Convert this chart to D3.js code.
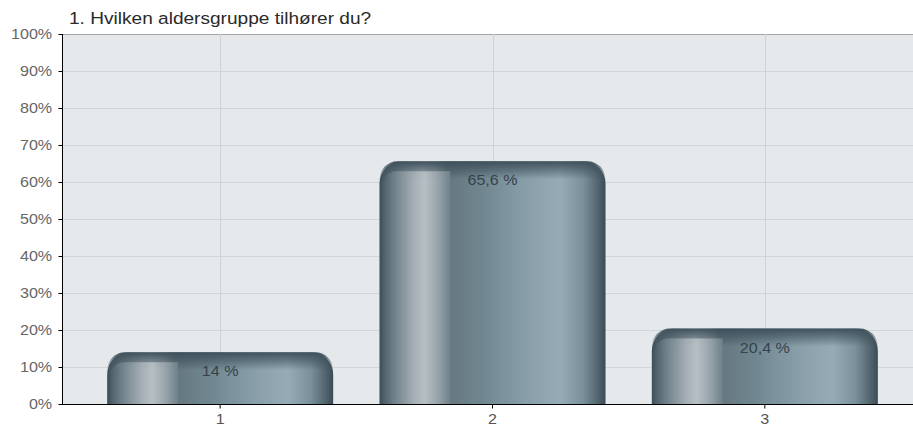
<!DOCTYPE html>
<html>
<head>
<meta charset="utf-8">
<script src="https://cdn.jsdelivr.net/npm/d3@7"></script>
<style>
  html, body { margin: 0; padding: 0; background: #ffffff; }
  svg { display: block; font-family: "Liberation Sans", Arial, sans-serif; }
</style>
</head>
<body>
<svg id="chart" width="913" height="429"></svg>
<script>
// Survey question and answer shares
const title = "1. Hvilken aldersgruppe tilhører du?";
const categories = ["1", "2", "3"];
const values = [14, 65.6, 20.4];
const valueLabels = ["14 %", "65,6 %", "20,4 %"];
const yTicks = [0, 10, 20, 30, 40, 50, 60, 70, 80, 90, 100];

const svg = d3.select("#chart");
const plot = { left: 62, top: 34, right: 913, bottom: 404 };
const stretch = 1.15; // text is set slightly wide

const x = d3.scaleBand()
  .domain(categories)
  .range([plot.left + 22, plot.right - 12])
  .paddingInner(0.17)
  .paddingOuter(0.085);
const y = d3.scaleLinear().domain([0, 100]).range([plot.bottom, plot.top]);

const defs = svg.append("defs");

// Horizontal metallic shading across each column
const hGrad = defs.append("linearGradient").attr("id", "barFace")
  .attr("x1", 0).attr("x2", 1).attr("y1", 0).attr("y2", 0);
[
  [0.00, "#3f4f59"], [0.04, "#566873"], [0.12, "#8e9ba3"], [0.19, "#b3bbc0"],
  [0.25, "#95a2a9"], [0.30, "#64777f"], [0.45, "#70868f"], [0.65, "#889ea9"],
  [0.80, "#96abb5"], [0.90, "#7a909a"], [0.96, "#566973"], [1.00, "#3b4b55"]
].forEach(([o, c]) => hGrad.append("stop").attr("offset", o).attr("stop-color", c));

// Darker rim along the rounded top
const topGrad = defs.append("linearGradient").attr("id", "barTop")
  .attr("x1", 0).attr("x2", 0).attr("y1", 0).attr("y2", 1);
topGrad.append("stop").attr("offset", 0).attr("stop-color", "#3b4d58").attr("stop-opacity", 0.95);
topGrad.append("stop").attr("offset", 0.5).attr("stop-color", "#3b4d58").attr("stop-opacity", 0.5);
topGrad.append("stop").attr("offset", 1).attr("stop-color", "#3b4d58").attr("stop-opacity", 0);

// Left highlight panel shading
const leftGrad = defs.append("linearGradient").attr("id", "barLeft")
  .attr("x1", 0).attr("x2", 1).attr("y1", 0).attr("y2", 0);
[
  [0.00, "#4a5c66"], [0.15, "#6c7d87"], [0.45, "#a3adb3"], [0.62, "#b8c0c5"],
  [0.82, "#98a4ab"], [1.00, "#71838c"]
].forEach(([o, c]) => leftGrad.append("stop").attr("offset", o).attr("stop-color", c));

// Plot background
svg.append("rect")
  .attr("x", plot.left).attr("y", plot.top)
  .attr("width", plot.right - plot.left).attr("height", plot.bottom - plot.top)
  .attr("fill", "#e6e9ec");

// Horizontal gridlines
svg.append("g").selectAll("line").data(yTicks.filter(d => d > 0 && d < 100)).join("line")
  .attr("x1", plot.left).attr("x2", plot.right)
  .attr("y1", d => y(d) + 0.5).attr("y2", d => y(d) + 0.5)
  .attr("stroke", "#d3d6d9").attr("stroke-width", 1);

// Top border of the plot area
svg.append("line")
  .attr("x1", plot.left).attr("x2", plot.right)
  .attr("y1", y(100) + 0.5).attr("y2", y(100) + 0.5)
  .attr("stroke", "#a3a6a9").attr("stroke-width", 1);

// Vertical gridlines at category centres
svg.append("g").selectAll("line").data(categories).join("line")
  .attr("x1", d => Math.round(x(d) + x.bandwidth() / 2) + 0.5)
  .attr("x2", d => Math.round(x(d) + x.bandwidth() / 2) + 0.5)
  .attr("y1", plot.top).attr("y2", plot.bottom)
  .attr("stroke", "#d0d3d6").attr("stroke-width", 1);

// Column outline with rounded top corners
function roundedTop(x0, y0, w, h, r) {
  r = Math.min(r, w / 2, h);
  return `M${x0},${y0 + h}V${y0 + r}A${r},${r} 0 0 1 ${x0 + r},${y0}` +
         `H${x0 + w - r}A${r},${r} 0 0 1 ${x0 + w},${y0 + r}V${y0 + h}Z`;
}

const bars = svg.append("g").selectAll("g").data(categories).join("g");
bars.each(function (c, i) {
  const g = d3.select(this);
  const bx = x(c), bw = x.bandwidth();
  const by = y(values[i]), bh = y(0) - y(values[i]);
  const r = 22;
  g.append("path").attr("d", roundedTop(bx, by, bw, bh, r)).attr("fill", "url(#barFace)");
  // rim shading on top
  g.append("path").attr("d", roundedTop(bx, by, bw, Math.min(18, bh), r))
    .attr("fill", "url(#barTop)");
  // lighter inset panel on the left side
  const inset = 10;
  const lx = bx + 3, lw = bw * 0.30;
  const ly = by + inset, lh = bh - inset;
  const lr = 14;
  g.append("path")
    .attr("d", `M${lx},${ly + lh}V${ly + lr}A${lr},${lr} 0 0 1 ${lx + lr},${ly}H${lx + lw}V${ly + lh}Z`)
    .attr("fill", "url(#barLeft)").attr("opacity", 0.9);
});

// Value labels inside each column
svg.append("g").selectAll("text").data(categories).join("text")
  .attr("transform", (d, i) =>
    `translate(${x(d) + x.bandwidth() / 2},${y(values[i]) + 24}) scale(${stretch},1)`)
  .attr("text-anchor", "middle")
  .attr("font-size", 14)
  .attr("fill", "#36434a")
  .text((d, i) => valueLabels[i]);

// Y axis
const yAxis = d3.axisLeft(y).tickValues(yTicks).tickFormat(d => d + "%").tickSize(4).tickPadding(5);
const gy = svg.append("g").attr("transform", `translate(${plot.left + 0.5},0)`).call(yAxis);
gy.select(".domain").attr("stroke", "#000").attr("d", `M0,${plot.top}V${plot.bottom}`);
gy.selectAll(".tick line").attr("stroke", "#000");
gy.selectAll(".tick text").attr("font-size", 14).attr("fill", "#666")
  .attr("font-family", "Liberation Sans, Arial, sans-serif")
  .attr("transform", `scale(${stretch},1)`);

// X axis
const xAxis = d3.axisBottom(x).tickSize(4).tickPadding(6);
const gx = svg.append("g").attr("transform", `translate(0,${plot.bottom + 0.5})`).call(xAxis);
gx.select(".domain").attr("stroke", "#000").attr("stroke-width", 1.2)
  .attr("d", `M${plot.left},0H${plot.right}`);
gx.selectAll(".tick line").attr("stroke", "#000");
gx.selectAll(".tick text").attr("font-size", 14).attr("fill", "#555")
  .attr("font-family", "Liberation Sans, Arial, sans-serif")
  .attr("transform", `scale(${stretch},1)`);

// Title
svg.append("text")
  .attr("transform", `translate(69,24) scale(${stretch},1)`)
  .attr("font-size", 16.6).attr("fill", "#2a2a2a")
  .text(title);
</script>
</body>
</html>
